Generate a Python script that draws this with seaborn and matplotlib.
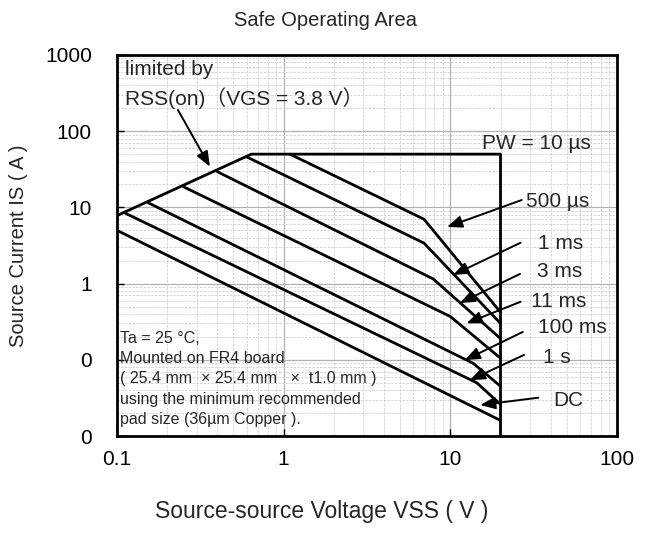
import numpy as np
import pandas as pd
import matplotlib
matplotlib.use("Agg")
import matplotlib.pyplot as plt
import seaborn as sns
from matplotlib.ticker import LogLocator, FixedLocator, FixedFormatter, NullFormatter

# ---------------- data ----------------
# safe-operating-area envelope: RSS(on) limit, 50 A plateau, 20 V limit (PW = 10 us)
limit_v = [0.1, 0.64, 20, 20]
limit_i = [7.8, 50, 50, 0.01]

v_500us = [1.09, 6.95, 20]
i_500us = [50, 7.0, 0.42]
v_1ms = [0.60, 6.95, 20]
i_1ms = [46, 3.4, 0.30]
v_3ms = [0.40, 7.9, 20]
i_3ms = [29.4, 1.15, 0.19]
v_11ms = [0.25, 10.0, 20]
i_11ms = [18.7, 0.37, 0.105]
v_100ms = [0.154, 13.7, 20]
i_100ms = [11.5, 0.09, 0.045]
v_1s = [0.112, 14.4, 20]
i_1s = [8.4, 0.05, 0.026]
v_dc = [0.1, 20]
i_dc = [5.0, 0.016]

series_names = ["limit", "500 µs", "1 ms", "3 ms", "11 ms", "100 ms", "1 s", "DC"]
series_v = [limit_v, v_500us, v_1ms, v_3ms, v_11ms, v_100ms, v_1s, v_dc]
series_i = [limit_i, i_500us, i_1ms, i_3ms, i_11ms, i_100ms, i_1s, i_dc]

x_ticks = [0.1, 1, 10, 100]
x_tick_labels = ["0.1", "1", "10", "100"]
y_ticks = [0.01, 0.1, 1, 10, 100, 1000]
y_tick_labels = ["0", "0", "1", "10", "100", "1000"]

title = "Safe Operating Area"
x_label = "Source-source Voltage VSS ( V )"
y_label = "Source Current IS ( A )"
note_lines = [
    "Ta = 25 °C,",
    "Mounted on FR4 board",
    "( 25.4 mm  × 25.4 mm   ×  t1.0 mm )",
    "using the minimum recommended",
    "pad size (36µm Copper ).",
]

# ---------------- build table ----------------
frames = []
for name, vv, ii in zip(series_names, series_v, series_i):
    frames.append(pd.DataFrame({"series": name, "V": vv, "I": ii}))
df = pd.concat(frames, ignore_index=True)

# ---------------- style ----------------
sns.set_style("white")
plt.rcParams["font.family"] = ["Liberation Sans", "Noto Sans CJK JP", "DejaVu Sans"]

W, H = 650, 540
fig = plt.figure(figsize=(W / 100, H / 100), dpi=100)
ax_l, ax_r, ax_t, ax_b = 117, 617, 55, 436
ax = fig.add_axes([ax_l / W, 1 - ax_b / H, (ax_r - ax_l) / W, (ax_b - ax_t) / H])

sns.lineplot(data=df, x="V", y="I", units="series", estimator=None, sort=False,
             color="black", linewidth=2.0, ax=ax, legend=False)

ax.set_xscale("log")
ax.set_yscale("log")
ax.set_xlim(0.1, 100)
ax.set_ylim(0.01, 1000)

ax.xaxis.set_major_locator(FixedLocator(x_ticks))
ax.xaxis.set_major_formatter(FixedFormatter(x_tick_labels))
ax.yaxis.set_major_locator(FixedLocator(y_ticks))
ax.yaxis.set_major_formatter(FixedFormatter(y_tick_labels))
ax.xaxis.set_minor_locator(LogLocator(base=10, subs=np.arange(2, 10), numticks=30))
ax.yaxis.set_minor_locator(LogLocator(base=10, subs=np.arange(2, 10), numticks=30))
ax.xaxis.set_minor_formatter(NullFormatter())
ax.yaxis.set_minor_formatter(NullFormatter())

ax.set_axisbelow(True)
ax.grid(True, which="major", color="#b2b2b2", linewidth=0.9, linestyle="-")
ax.grid(True, which="minor", color="#cfcfcf", linewidth=0.6, linestyle=(0, (3, 1.5)))

for s in ax.spines.values():
    s.set_visible(True)
    s.set_color("black")
    s.set_linewidth(2.0)

ax.tick_params(which="major", direction="in", length=5, width=1, colors="black",
               labelsize=15, bottom=True, left=True, top=False, right=False)
ax.tick_params(axis="y", which="major", pad=18)
ax.tick_params(axis="x", which="major", pad=10)
ax.tick_params(which="minor", length=0)

# title and x label are centred on the whole chart, not on the plot area
ax.set_xlabel(x_label, fontsize=16.5)
ax.xaxis.set_label_coords((322 - ax_l) / (ax_r - ax_l), -(500 - ax_b) / (ax_b - ax_t))
ax.set_ylabel(y_label, fontsize=14.5, labelpad=12)
ax.set_title(title, fontsize=14.5, pad=21, x=(325 - ax_l) / (ax_r - ax_l))

# ---------------- annotations ----------------
big = 15
ax.text(0.112, 640, "limited by", fontsize=big, ha="left", va="center")
ax.text(0.112, 270, "RSS(on)（VGS = 3.8 V）", fontsize=big, ha="left", va="center")

label_pos = {
    "PW = 10 µs": (15.5, 68),
    "500 µs": (28.4, 11.8),
    "1 ms": (33.6, 3.41),
    "3 ms": (33.0, 1.42),
    "11 ms": (30.5, 0.574),
    "100 ms": (33.6, 0.269),
    "1 s": (36.0, 0.106),
    "DC": (41.3, 0.0288),
}
for txt, (xv, yv) in label_pos.items():
    ax.text(xv, yv, txt, fontsize=big, ha="left", va="center")

arrows = [
    ((0.232, 190), (0.361, 34.2)),
    ((26.8, 12.5), (9.55, 5.53)),
    ((26.4, 3.44), (10.4, 1.30)),
    ((26.2, 1.34), (11.4, 0.556)),
    ((26.4, 0.578), (12.5, 0.301)),
    ((27.2, 0.232), (12.2, 0.099)),
    ((27.7, 0.116), (13.1, 0.054)),
    ((33.7, 0.0318), (15.1, 0.0255)),
]
for tail, head in arrows:
    ax.annotate("", xy=head, xytext=tail,
                arrowprops=dict(arrowstyle="-|>,head_length=0.7,head_width=0.28",
                                color="black", lw=1.4, shrinkA=0, shrinkB=0,
                                mutation_scale=13))

note_x = 0.104
for k, line in enumerate(note_lines):
    yy = 10 ** (3 - (338.3 + 20.25 * k - ax_t) / 76.2)
    ax.text(note_x, yy, line, fontsize=11.5, ha="left", va="center")

fig.savefig("out.png", dpi=100)
